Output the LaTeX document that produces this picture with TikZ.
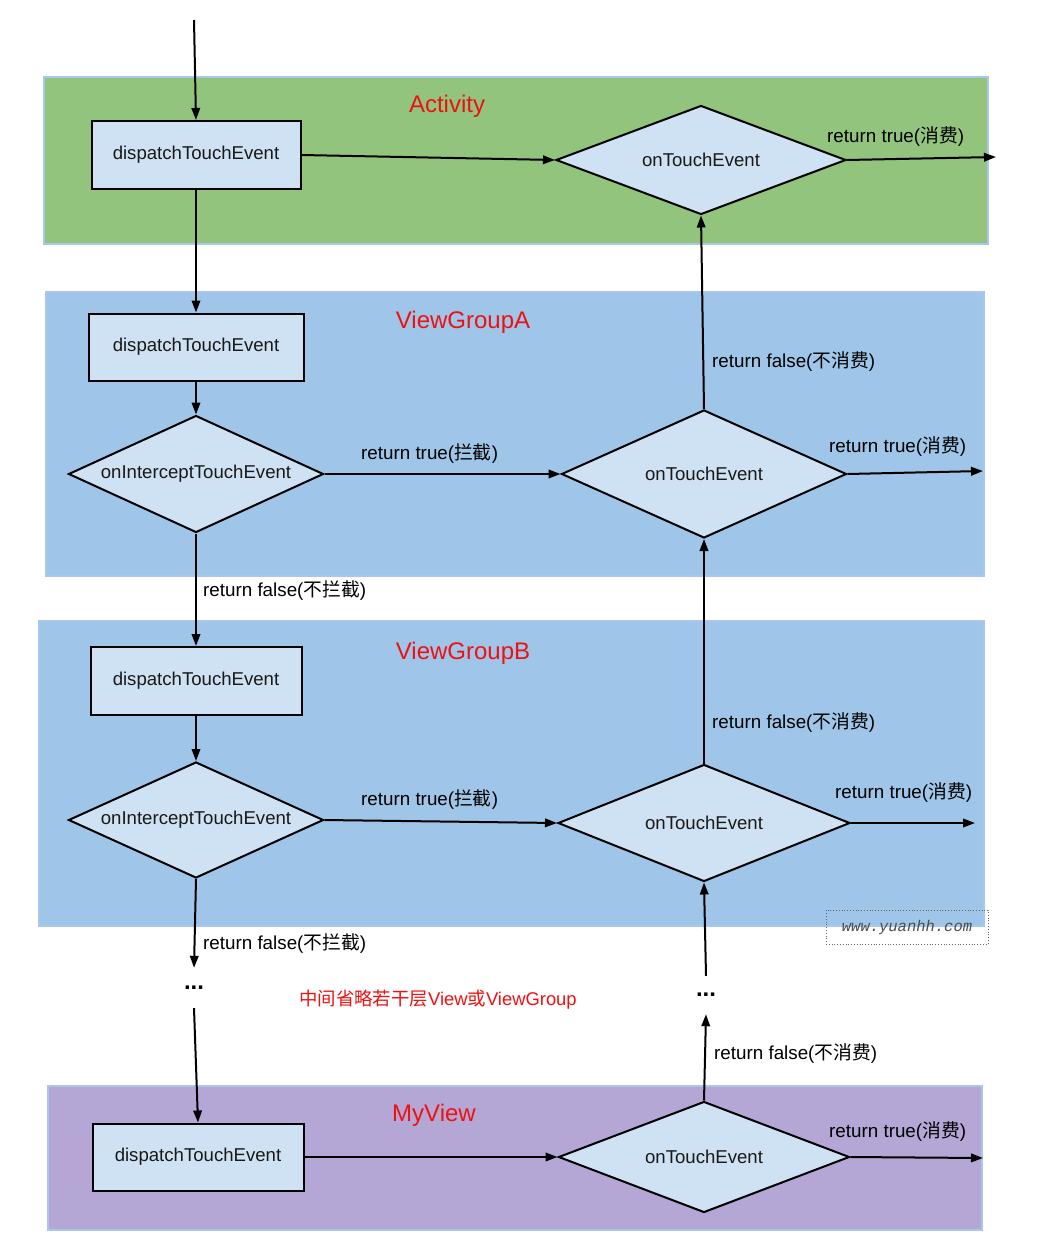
\documentclass[tikz,border=0pt]{standalone}
\usepackage{fontspec}
\setmainfont{Liberation Sans}
\newfontfamily\cjkf{Noto Sans CJK SC}
\newfontfamily\wmfont{Liberation Mono}
\usetikzlibrary{arrows.meta,shapes.geometric}
\newcommand\myzh[1]{{\cjkf #1}}
\definecolor{lgreen}{HTML}{93C47D}
\definecolor{lblue}{HTML}{9FC5E8}
\definecolor{lpurple}{HTML}{B4A7D6}
\definecolor{boxfill}{HTML}{CFE2F3}
\definecolor{layeredge}{HTML}{A9C6EE}
\definecolor{titlered}{HTML}{EE1111}
\tikzset{
  layer/.style={draw=layeredge,line width=1.2pt},
  procbox/.style={draw=black,fill=boxfill,line width=2pt,minimum width=210pt,minimum height=67pt,inner sep=0pt,font=\fontsize{18.6}{20}\selectfont,text=black!90},
  decide/.style={diamond,draw=black,fill=boxfill,line width=2pt,inner sep=0pt,shape aspect=2.3,font=\fontsize{18.6}{20}\selectfont,text=black!90},
  arr/.style={line width=2pt,-{Triangle[length=12pt,width=8.5pt]}},
  lbl/.style={anchor=west,inner sep=0pt,font=\fontsize{18.8}{20}\selectfont,text=black},
  ttl/.style={text=titlered,font=\fontsize{24}{27}\selectfont},
  dotsnode/.style={inner sep=0pt,font=\fontsize{24}{26}\selectfont\bfseries},
}
\begin{document}
\begin{tikzpicture}[x=1pt,y=-1pt]
\useasboundingbox (0,0) rectangle (1036,1244);
\fill[white] (0,0) rectangle (1036,1244);
% layers
\path[layer,fill=lgreen] (44,77) rectangle (988,244);
\path[layer,fill=lblue] (46,292) rectangle (984,576);
\path[layer,fill=lblue] (39,621) rectangle (984,926);
\path[layer,fill=lpurple] (48,1086) rectangle (982,1230);
% titles
\node[ttl] (tact) at (447,106) {Activity};
\node[ttl] (tvga) at (463,322) {ViewGroupA};
\node[ttl] (tvgb) at (463,653) {ViewGroupB};
\node[ttl] (tmv) at (434,1115) {MyView};
% Activity
\node[procbox,minimum width=209pt,minimum height=68pt] (adis) at (196,155) {dispatchTouchEvent};
\node[decide,minimum width=290pt,minimum height=109pt] (aot) at (701,160) {onTouchEvent};
% ViewGroupA
\node[procbox,minimum width=215pt] (gadis) at (196,347) {dispatchTouchEvent};
\node[decide,minimum width=255pt,minimum height=117pt] (gaic) at (196,474) {onInterceptTouchEvent};
\node[decide,minimum width=285pt,minimum height=128pt] (gaot) at (704,474) {onTouchEvent};
% ViewGroupB
\node[procbox,minimum width=211pt,minimum height=68pt] (gbdis) at (196,681) {dispatchTouchEvent};
\node[decide,minimum width=255pt,minimum height=116pt] (gbic) at (196,820) {onInterceptTouchEvent};
\node[decide,minimum width=292pt,minimum height=117pt] (gbot) at (704,823) {onTouchEvent};
% dots
\node[dotsnode,minimum height=40pt] (ld) at (194,988) {...};
\node[dotsnode,minimum height=38pt] (rd) at (706,995) {...};
\node[text=titlered,font=\fontsize{18.4}{20}\selectfont] (note) at (438,1000) {\myzh{中间省略若干层}View\myzh{或}ViewGroup};
% MyView
\node[procbox,minimum width=211pt,minimum height=67pt] (mdis) at (198,1157) {dispatchTouchEvent};
\node[decide,minimum width=291pt,minimum height=111pt] (mot) at (704,1157) {onTouchEvent};
% free ends
\coordinate (start) at (194,20);
\coordinate (aexit) at (996,157);
\coordinate (gaexit) at (983,471);
\coordinate (gbexit) at (975,823);
\coordinate (mexit) at (983,1158);
% connectors
\draw[arr] (start) -- (adis.north);
\draw[arr] (adis.east) -- (aot.west);
\draw[arr] (aot.east) -- (aexit);
\draw[arr] (adis.south) -- (gadis.north);
\draw[arr] (gadis.south) -- (gaic.north);
\draw[arr] (gaic.east) -- (gaot.west);
\draw[arr] (gaot.east) -- (gaexit);
\draw[arr] (gaot.north) -- (aot.south);
\draw[arr] (gaic.south) -- (gbdis.north);
\draw[arr] (gbdis.south) -- (gbic.north);
\draw[arr] (gbic.east) -- (gbot.west);
\draw[arr] (gbot.east) -- (gbexit);
\draw[arr] (gbot.north) -- (gaot.south);
\draw[arr] (gbic.south) -- (ld.north);
\draw[arr] (ld.south) -- (mdis.north);
\draw[arr] (mdis.east) -- (mot.west);
\draw[arr] (mot.east) -- (mexit);
\draw[arr] (mot.north) -- (rd.south);
\draw[arr] (rd.north) -- (gbot.south);
% labels
\node[lbl] (l1) at (827,137) {return true(\myzh{消费})};
\node[lbl] (l2) at (829,447) {return true(\myzh{消费})};
\node[lbl] (l3) at (835,793) {return true(\myzh{消费})};
\node[lbl] (l4) at (829,1132) {return true(\myzh{消费})};
\node[lbl] (l5) at (361,454) {return true(\myzh{拦截})};
\node[lbl] (l6) at (361,800) {return true(\myzh{拦截})};
\node[lbl] (l7) at (203,591) {return false(\myzh{不拦截})};
\node[lbl] (l8) at (203,944) {return false(\myzh{不拦截})};
\node[lbl] (l9) at (712,362) {return false(\myzh{不消费})};
\node[lbl] (l10) at (712,723) {return false(\myzh{不消费})};
\node[lbl] (l11) at (714,1054) {return false(\myzh{不消费})};
% watermark
\node[draw=black!60,dotted,line width=0.8pt,minimum width=162pt,minimum height=34pt,inner sep=0pt,text=black!70,font=\wmfont\itshape\fontsize{15.5}{17}\selectfont] (wm) at (907,927) {www.yuanhh.com};
\end{tikzpicture}
\end{document}
